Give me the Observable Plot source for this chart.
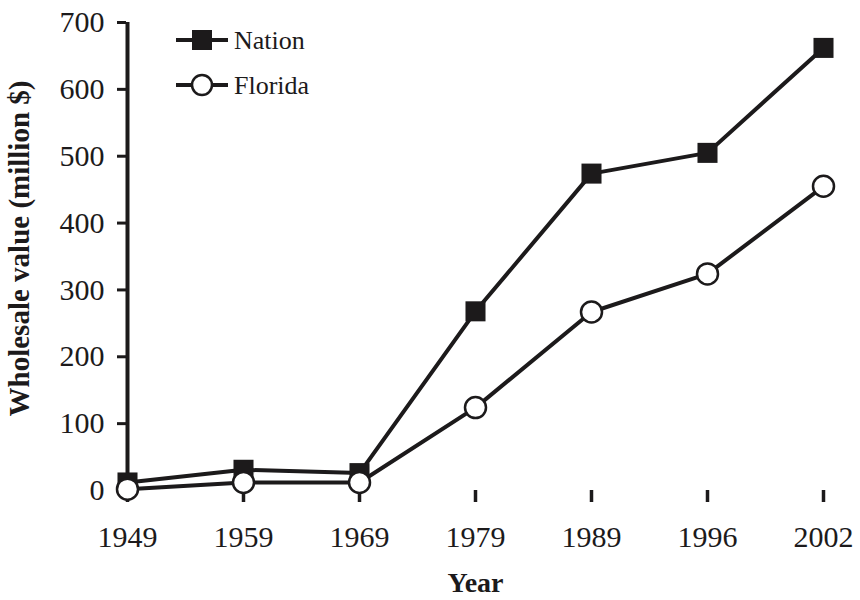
<!DOCTYPE html>
<html>
<head>
<meta charset="utf-8">
<script src="https://cdn.jsdelivr.net/npm/d3@7"></script>
<script src="https://cdn.jsdelivr.net/npm/@observablehq/plot@0.6"></script>
<style>
  html, body { margin: 0; padding: 0; background: #fff; }
  #wrap { position: relative; width: 860px; height: 600px; }
  #legend { position: absolute; left: 0; top: 0; }
</style>
</head>
<body>
<div id="wrap"></div>
<script>
const years = ["1949", "1959", "1969", "1979", "1989", "1996", "2002"];
const nation = [12, 31, 26, 268, 474, 505, 662];
const florida = [2, 12, 12, 124, 267, 324, 455];
const seriesNames = ["Nation", "Florida"];
const yTicks = [0, 100, 200, 300, 400, 500, 600, 700];
const yLabel = "Wholesale value (million $)";
const xLabel = "Year";

const ink = "#1c1a1b";
const nationData = years.map((y, i) => ({year: y, value: nation[i]}));
const floridaData = years.map((y, i) => ({year: y, value: florida[i]}));

const chart = Plot.plot({
  width: 860,
  height: 600,
  marginLeft: 126,
  marginRight: 36,
  marginTop: 22,
  marginBottom: 110,
  style: {fontFamily: "'Liberation Serif', 'Times New Roman', serif", fontSize: "30px", color: ink, background: "#fff"},
  x: {type: "point", domain: years, padding: 0},
  y: {domain: [0, 700]},
  marks: [
    Plot.axisY({ticks: yTicks, tickSize: 9, tickPadding: 13, strokeWidth: 3, stroke: ink, fill: ink, fontSize: 30, label: null}),
    Plot.axisX({tickSize: 12, tickPadding: 23, strokeWidth: 3.5, stroke: ink, fill: ink, fontSize: 30, label: null}),
    Plot.ruleX([years[0]], {y1: 0, y2: 700, stroke: ink, strokeWidth: 4}),
    Plot.ruleY([0], {x1: years[0], x2: years[years.length - 1], stroke: ink, strokeWidth: 4}),
    Plot.line(floridaData, {x: "year", y: "value", stroke: ink, strokeWidth: 4}),
    Plot.line(nationData, {x: "year", y: "value", stroke: ink, strokeWidth: 4}),
    Plot.dot(nationData, {x: "year", y: "value", symbol: "square", r: 11.3, fill: ink, stroke: "none"}),
    Plot.dot(floridaData, {x: "year", y: "value", symbol: "circle", r: 10.5, fill: "#fff", stroke: ink, strokeWidth: 2.5}),
    Plot.text([yLabel], {frameAnchor: "left", rotate: -90, dx: -107, dy: -8, textAnchor: "middle", fontSize: 29, fontWeight: "bold", fill: ink}),
    Plot.text([xLabel], {frameAnchor: "bottom", dy: 101, fontSize: 28, fontWeight: "bold", fill: ink})
  ]
});
document.getElementById("wrap").appendChild(chart);

// legend overlay
const lg = d3.select("#wrap").append("svg").attr("id", "legend")
  .attr("width", 860).attr("height", 120)
  .style("font-family", "'Liberation Serif', 'Times New Roman', serif");
seriesNames.forEach((name, i) => {
  const cy = 40 + i * 45;
  const g = lg.append("g");
  g.append("line").attr("x1", 176).attr("x2", 228).attr("y1", cy).attr("y2", cy)
    .attr("stroke", ink).attr("stroke-width", 4);
  if (i === 0) {
    g.append("rect").attr("x", 192).attr("y", cy - 10).attr("width", 20).attr("height", 20).attr("fill", ink);
  } else {
    g.append("circle").attr("cx", 202).attr("cy", cy).attr("r", 10).attr("fill", "#fff")
      .attr("stroke", ink).attr("stroke-width", 2.5);
  }
  g.append("text").attr("x", 234).attr("y", cy).attr("dy", "0.35em")
    .attr("font-size", 26).attr("fill", ink).text(name);
});
</script>
</body>
</html>
